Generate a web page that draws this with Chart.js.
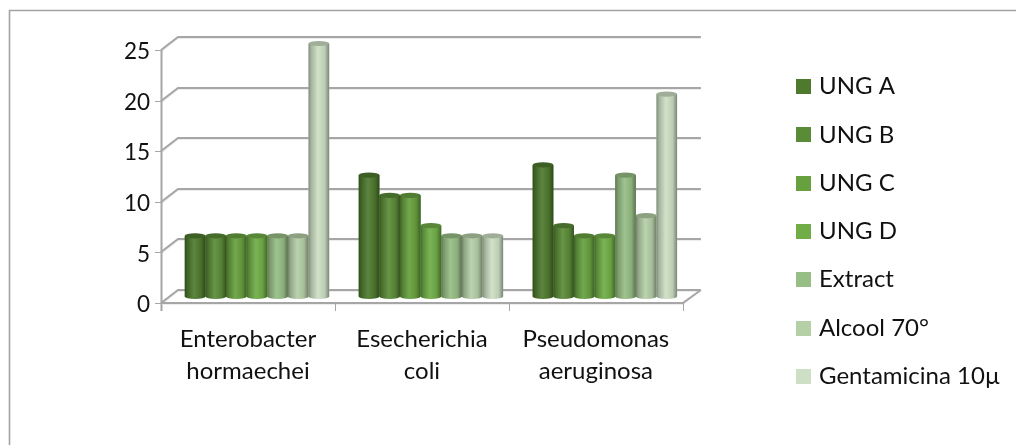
<!DOCTYPE html>
<html>
<head>
<meta charset="utf-8">
<title>Chart</title>
<script src="https://cdn.jsdelivr.net/npm/chart.js@4"></script>
<style>
html, body { margin: 0; padding: 0; background: #fff; overflow: hidden; }
#wrap { width: 1016px; height: 445px; }
</style>
</head>
<body>
<div id="wrap"><canvas id="chart"></canvas></div>
<script>
const categories = [['Enterobacter', 'hormaechei'], ['Esecherichia', 'coli'], ['Pseudomonas', 'aeruginosa']];
const seriesNames = ['UNG A', 'UNG B', 'UNG C', 'UNG D', 'Extract', 'Alcool 70°', 'Gentamicina 10µ'];
const ungA = [6, 12, 13];
const ungB = [6, 10, 7];
const ungC = [6, 10, 6];
const ungD = [6, 7, 6];
const extract = [6, 6, 12];
const alcool = [6, 6, 8];
const gentamicina = [25, 6, 20];
const yTicks = [0, 5, 10, 15, 20, 25];
const colors = ['#4f7a2e', '#5a8b37', '#67a03f', '#70ad47', '#97be85', '#b5cfa7', '#cddfc4'];

const allValues = [ungA, ungB, ungC, ungD, extract, alcool, gentamicina];
const GRID = '#a6a6a6';
const FONT = 'Lato';
// depth of the fake 3D box
const DX = 18, DY = 13;

function shade(hex, f) {
    const n = parseInt(hex.slice(1), 16);
    const ch = [n >> 16, (n >> 8) & 255, n & 255].map(c => Math.round(f < 1 ? c * f : c + (255 - c) * (f - 1)));
    return `rgb(${ch[0]},${ch[1]},${ch[2]})`;
}

function line(ctx, pts, color, width) {
    ctx.beginPath();
    pts.forEach((p, i) => i ? ctx.lineTo(p[0], p[1]) : ctx.moveTo(p[0], p[1]));
    ctx.strokeStyle = color;
    ctx.lineWidth = width;
    ctx.stroke();
}

// legend swatch as a small canvas, so the text can sit closer than boxWidth allows
function swatch(color) {
    const c = document.createElement('canvas');
    c.width = 15;
    c.height = 15;
    const g = c.getContext('2d');
    g.fillStyle = color;
    g.fillRect(0, 0, 15, 15);
    return c;
}

// outer frame, walls and gridlines behind the bars
const boxPlugin = {
    id: 'box3d',
    beforeDatasetsDraw(chart) {
        const { ctx, chartArea: a, scales } = chart;
        ctx.save();
        line(ctx, [[9.5, 445], [9.5, 10.5], [1016, 10.5]], '#a3a3a3', 1.6);
        yTicks.forEach(v => {
            const y = Math.round(scales.y.getPixelForValue(v));
            line(ctx, [[a.left + 1, y + 1], [a.left + DX - 1, y - DY + 1], [a.right + DX, y - DY + 1]], '#e6e6e6', 1.5);
            line(ctx, [[a.left, y], [a.left + DX - 1, y - DY], [a.right + DX, y - DY]], GRID, 2);
            line(ctx, [[a.left - 6, y + 0.5], [a.left, y + 0.5]], GRID, 1);
        });
        const by = Math.round(scales.y.getPixelForValue(0));
        line(ctx, [[a.left + 0.5, Math.round(a.top)], [a.left + 0.5, by + 8]], GRID, 2);
        line(ctx, [[a.left, by + 1], [a.right, by + 1], [a.right + DX, by - DY]], '#e6e6e6', 1.5);
        line(ctx, [[a.left, by], [a.right, by], [a.right + DX, by - DY]], GRID, 2);
        for (let i = 0; i <= categories.length; i++) {
            const x = Math.round(a.left + (a.right - a.left) * i / categories.length) + 0.5;
            line(ctx, [[x, by], [x, by + 8]], GRID, 1);
        }
        ctx.restore();
        // bars sit in the middle of the box depth
        ctx.save();
        ctx.translate(DX / 2, -DY / 2);
    },
    afterDatasetDraw(chart, args) {
        const { ctx } = chart;
        const base = colors[args.index];
        args.meta.data.forEach(bar => {
            const l = bar.x - bar.width / 2, r = bar.x + bar.width / 2;
            const rx = bar.width / 2, ry = 2.6;
            const g = ctx.createLinearGradient(l, 0, r, 0);
            g.addColorStop(0, shade(base, 0.62));
            g.addColorStop(0.12, shade(base, 0.8));
            g.addColorStop(0.45, shade(base, 1.08));
            g.addColorStop(0.78, shade(base, 0.92));
            g.addColorStop(1, shade(base, 0.6));
            ctx.beginPath();
            ctx.moveTo(l, bar.y);
            ctx.lineTo(l, bar.base);
            ctx.ellipse(bar.x, bar.base, rx, ry, 0, Math.PI, 0, true);
            ctx.lineTo(r, bar.y);
            ctx.closePath();
            ctx.fillStyle = g;
            ctx.fill();
            ctx.beginPath();
            ctx.ellipse(bar.x, bar.y, rx, ry, 0, 0, Math.PI * 2);
            ctx.fillStyle = shade(base, 0.78);
            ctx.fill();
        });
    },
    afterDatasetsDraw(chart) {
        chart.ctx.restore();
    },
    afterLayout(chart) {
        // legend sits apart from the plot, not flush with it
        const lg = chart.legend;
        const pad = lg.options.labels.padding;
        lg.left = 800 - pad;
        lg.right = lg.left + lg.width;
        lg.top = 74.5 - pad;
    }
};

new Chart(document.getElementById('chart'), {
    type: 'bar',
    data: {
        labels: categories,
        datasets: seriesNames.map((name, i) => ({
            label: name,
            data: allValues[i],
            backgroundColor: colors[i],
            borderWidth: 0,
            clip: false
        }))
    },
    options: {
        responsive: true,
        maintainAspectRatio: false,
        animation: false,
        layout: { padding: { left: 0, top: 50, right: 105.5, bottom: 0 } },
        datasets: { bar: { barPercentage: 1, categoryPercentage: 0.83 } },
        scales: {
            x: {
                grid: { display: false },
                border: { display: false },
                ticks: {
                    color: '#111',
                    font: { family: FONT, size: 24, lineHeight: 1.3 },
                    padding: 13,
                    maxRotation: 0,
                    autoSkip: false
                },
                afterFit: s => { s.height = 142; }
            },
            y: {
                min: 0,
                max: 25,
                afterBuildTicks: s => { s.ticks = yTicks.map(v => ({ value: v })); },
                grid: { display: false },
                border: { display: false },
                ticks: {
                    color: '#111',
                    font: { family: FONT, size: 22.5 },
                    padding: 3,
                    labelOffset: 2
                },
                afterFit: s => { s.width = 161; }
            }
        },
        plugins: {
            title: { display: false },
            tooltip: { enabled: false },
            legend: {
                position: 'right',
                align: 'start',
                labels: {
                    color: '#111',
                    font: { family: FONT, size: 24 },
                    usePointStyle: true,
                    pointStyleWidth: 7,
                    boxHeight: 15,
                    padding: 24.3,
                    generateLabels: chart => Chart.defaults.plugins.legend.labels.generateLabels(chart)
                        .map((item, i) => ({ ...item, pointStyle: swatch(colors[i]) }))
                }
            }
        }
    },
    plugins: [boxPlugin]
});
</script>
</body>
</html>
